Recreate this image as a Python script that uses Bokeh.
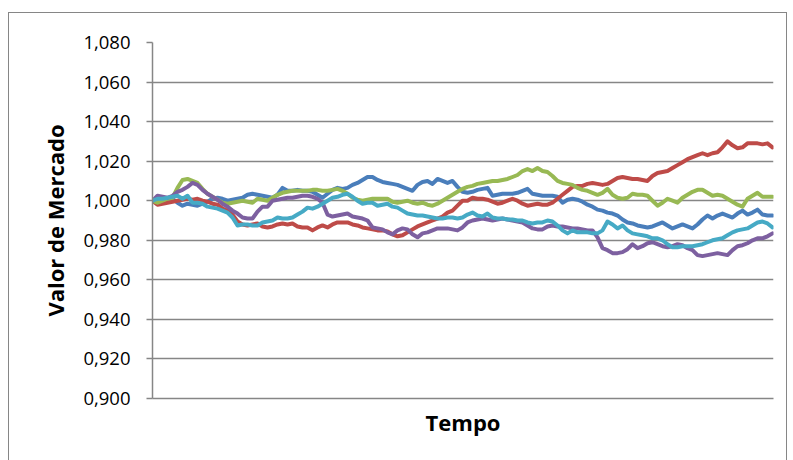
from bokeh.plotting import figure
from bokeh.models import Range1d, FixedTicker, InlineStyleSheet
from bokeh.embed import file_html
from bokeh.resources import INLINE

y_ticks = [0.900, 0.920, 0.940, 0.960, 0.980, 1.000, 1.020, 1.040, 1.060, 1.080]
y_tick_labels = ["0,900", "0,920", "0,940", "0,960", "0,980", "1,000", "1,020", "1,040", "1,060", "1,080"]

serie_azul = [
    1.000, 1.000, 1.001, 1.001, 1.001, 0.999, 0.9975, 0.9985, 0.998, 0.9975,
    0.9985, 0.9995, 1.001, 1.0015, 1.001, 1.000, 1.0005, 1.001, 1.0015, 1.003,
    1.0035, 1.003, 1.0025, 1.002, 1.0015, 1.003, 1.0065, 1.005, 1.005, 1.0055,
    1.005, 1.005, 1.0045, 1.003, 1.0015, 1.0035, 1.0055, 1.0065, 1.006, 1.0065,
    1.008, 1.009, 1.0105, 1.012, 1.012, 1.0105, 1.0095, 1.009, 1.0085, 1.008,
    1.007, 1.006, 1.005, 1.008, 1.0095, 1.010, 1.0085, 1.011, 1.010, 1.009,
    1.010, 1.007, 1.0045, 1.004, 1.0045, 1.0055, 1.006, 1.0065, 1.0025, 1.003,
    1.0035, 1.0035, 1.0035, 1.004, 1.005, 1.006, 1.0035, 1.003, 1.0025, 1.0025,
    1.0025, 1.002, 0.999, 1.0005, 1.001, 1.0005, 0.9995, 0.998, 0.997, 0.9955,
    0.995, 0.994, 0.9935, 0.9925, 0.9905, 0.989, 0.9885, 0.9875, 0.987, 0.9865,
    0.987, 0.988, 0.989, 0.9875, 0.986, 0.987, 0.988, 0.987, 0.986, 0.988,
    0.9905, 0.9925, 0.991, 0.9925, 0.9935, 0.9925, 0.9915, 0.9935, 0.995, 0.993,
    0.994, 0.9955, 0.993, 0.9925, 0.9925,
]

serie_vermelha = [
    1.000, 0.998, 0.9985, 0.999, 0.9995, 1.000, 1.0005, 1.001, 1.0005, 1.001,
    1.000, 0.9995, 0.9985, 0.998, 0.996, 0.995, 0.993, 0.9895, 0.988, 0.9875,
    0.988, 0.9885, 0.987, 0.9865, 0.987, 0.988, 0.9885, 0.988, 0.9885, 0.987,
    0.9865, 0.9865, 0.985, 0.9865, 0.9875, 0.9865, 0.988, 0.989, 0.989, 0.989,
    0.988, 0.9875, 0.9865, 0.986, 0.9855, 0.985, 0.985, 0.9845, 0.983, 0.982,
    0.9825, 0.984, 0.9855, 0.987, 0.988, 0.989, 0.990, 0.991, 0.992, 0.994,
    0.995, 0.9975, 1.000, 1.000, 1.0015, 1.001, 1.001, 1.0005, 0.9995, 0.9985,
    0.999, 1.000, 1.001, 1.000, 0.9985, 0.9975, 0.998, 0.9985, 0.998, 0.998,
    0.999, 1.001, 1.003, 1.005, 1.007, 1.0075, 1.0075, 1.0085, 1.009, 1.0085,
    1.008, 1.0085, 1.010, 1.0115, 1.012, 1.0115, 1.011, 1.011, 1.0105, 1.010,
    1.0125, 1.014, 1.0145, 1.015, 1.0165, 1.018, 1.0195, 1.021, 1.022, 1.023,
    1.024, 1.023, 1.024, 1.0245, 1.027, 1.030, 1.028, 1.0265, 1.027, 1.029,
    1.029, 1.029, 1.0285, 1.029, 1.027,
]

serie_verde = [
    1.000, 0.999, 1.000, 1.001, 1.0015, 1.0065, 1.0105, 1.011, 1.010, 1.009,
    1.006, 1.0035, 1.002, 1.0005, 0.999, 0.9985, 0.999, 0.9995, 1.000, 0.9995,
    0.999, 1.001, 1.0005, 1.000, 1.0015, 1.003, 1.004, 1.0045, 1.005, 1.005,
    1.005, 1.005, 1.0055, 1.0055, 1.005, 1.005, 1.0055, 1.006, 1.005, 1.0035,
    1.0015, 1.0005, 1.000, 1.0005, 1.001, 1.001, 1.001, 1.001, 0.9995, 0.999,
    0.9995, 1.000, 0.999, 0.9985, 0.999, 0.998, 0.9975, 0.9985, 1.000, 1.0015,
    1.003, 1.0045, 1.006, 1.007, 1.0075, 1.0085, 1.009, 1.0095, 1.010, 1.010,
    1.0105, 1.011, 1.012, 1.013, 1.015, 1.016, 1.015, 1.0165, 1.015, 1.0145,
    1.0125, 1.010, 1.009, 1.0085, 1.008, 1.0065, 1.0055, 1.005, 1.004, 1.003,
    1.004, 1.006, 1.003, 1.0015, 1.001, 1.0015, 1.0035, 1.003, 1.003, 1.0025,
    1.000, 0.9975, 0.999, 1.001, 1.000, 0.999, 1.0015, 1.003, 1.0045, 1.0055,
    1.0055, 1.004, 1.0025, 1.003, 1.0025, 1.001, 0.9995, 0.998, 0.997, 1.001,
    1.0025, 1.004, 1.002, 1.002, 1.002,
]

serie_roxa = [
    1.000, 1.0025, 1.002, 1.0015, 1.0025, 1.0045, 1.0055, 1.007, 1.009, 1.008,
    1.0055, 1.0035, 1.002, 1.0005, 0.9985, 0.997, 0.995, 0.9935, 0.9915, 0.991,
    0.991, 0.9945, 0.997, 0.997, 1.000, 1.0005, 1.001, 1.0015, 1.0015, 1.002,
    1.0025, 1.0025, 1.002, 1.001, 0.999, 0.993, 0.992, 0.9925, 0.993, 0.9935,
    0.992, 0.9915, 0.991, 0.990, 0.9865, 0.986, 0.9855, 0.984, 0.983, 0.985,
    0.986, 0.9855, 0.983, 0.9815, 0.9835, 0.984, 0.985, 0.986, 0.986, 0.986,
    0.9855, 0.985, 0.9865, 0.989, 0.990, 0.9905, 0.991, 0.9905, 0.990, 0.9905,
    0.991, 0.9905, 0.990, 0.9895, 0.989, 0.9875, 0.986, 0.9855, 0.9855, 0.987,
    0.9875, 0.987, 0.987, 0.9865, 0.986, 0.986, 0.9855, 0.985, 0.985, 0.9815,
    0.976, 0.975, 0.9735, 0.9735, 0.974, 0.9755, 0.978, 0.976, 0.977, 0.9785,
    0.979, 0.978, 0.977, 0.9765, 0.977, 0.978, 0.9775, 0.976, 0.975, 0.9725,
    0.972, 0.9725, 0.973, 0.9735, 0.973, 0.9725, 0.975, 0.977, 0.9775, 0.9785,
    0.980, 0.981, 0.981, 0.982, 0.9835,
]

serie_ciano = [
    1.000, 1.001, 1.001, 1.0015, 1.002, 1.0025, 1.001, 1.0025, 0.999, 0.999,
    0.9985, 0.997, 0.9965, 0.996, 0.995, 0.994, 0.9915, 0.9875, 0.988, 0.988,
    0.9875, 0.9875, 0.989, 0.9895, 0.990, 0.9915, 0.991, 0.991, 0.9915, 0.993,
    0.9945, 0.9965, 0.996, 0.997, 0.9985, 1.000, 1.0015, 1.002, 1.003, 1.0035,
    1.002, 1.000, 0.9985, 0.999, 0.999, 0.9975, 0.998, 0.9985, 0.997, 0.9965,
    0.995, 0.9935, 0.993, 0.9925, 0.9925, 0.992, 0.9915, 0.991, 0.991, 0.9915,
    0.9915, 0.991, 0.9915, 0.993, 0.994, 0.9925, 0.992, 0.9935, 0.9915, 0.991,
    0.991, 0.9905, 0.9905, 0.990, 0.990, 0.989, 0.9885, 0.989, 0.989, 0.990,
    0.9895, 0.9875, 0.985, 0.9835, 0.985, 0.984, 0.984, 0.984, 0.9835, 0.9835,
    0.985, 0.9895, 0.988, 0.986, 0.9875, 0.985, 0.9835, 0.983, 0.9825, 0.982,
    0.981, 0.981, 0.980, 0.978, 0.9765, 0.9765, 0.977, 0.977, 0.977, 0.9775,
    0.978, 0.979, 0.980, 0.9805, 0.981, 0.9825, 0.984, 0.985, 0.9855, 0.986,
    0.9875, 0.989, 0.9895, 0.9885, 0.9865,
]

tempo = list(range(len(serie_azul)))

series = [
    (serie_azul, "#4A7EBB"),
    (serie_vermelha, "#BE4B48"),
    (serie_verde, "#98B954"),
    (serie_roxa, "#7D60A0"),
    (serie_ciano, "#46AAC5"),
]

p = figure(width=793, height=460, output_backend="svg", toolbar_location=None,
           x_range=Range1d(0, len(tempo) - 1 + 0.2), y_range=Range1d(0.900, 1.080))
p.min_border_left = 152
p.min_border_right = 20
p.min_border_top = 42
p.min_border_bottom = 62
p.outline_line_color = None
p.background_fill_color = "white"
p.border_fill_color = "white"

# chart-area border (like the Excel chart frame); its bottom edge lies below the window
p.stylesheets = [InlineStyleSheet(css="""
:host::after {
  content: "";
  position: absolute;
  left: 8px;
  top: 12px;
  width: 777px;
  height: 470px;
  border: 1px solid #868686;
  pointer-events: none;
}
""")]

grid_color = "#868686"
p.xgrid.visible = False
p.ygrid.ticker = FixedTicker(ticks=y_ticks)
p.ygrid.grid_line_color = grid_color
p.ygrid.grid_line_width = 1.5

p.yaxis.ticker = FixedTicker(ticks=y_ticks)
p.yaxis.major_label_overrides = dict(zip(y_ticks, y_tick_labels))
p.yaxis.axis_line_color = grid_color
p.yaxis.axis_line_width = 1.5
p.yaxis.major_tick_line_color = grid_color
p.yaxis.major_tick_line_width = 1.5
p.yaxis.major_tick_out = 6
p.yaxis.major_tick_in = 0
p.yaxis.minor_tick_line_color = None
p.yaxis.major_label_standoff = 16
p.yaxis.major_label_text_font = "Open Sans"
p.yaxis.major_label_text_font_size = "18.5px"
p.yaxis.major_label_text_color = "#000000"
p.yaxis.axis_label = "Valor de Mercado"
p.yaxis.axis_label_text_font = "Open Sans"
p.yaxis.axis_label_text_font_style = "bold"
p.yaxis.axis_label_text_font_size = "22px"
p.yaxis.axis_label_text_color = "#000000"
p.yaxis.axis_label_standoff = 10

p.xaxis.ticker = FixedTicker(ticks=[])
p.xaxis.axis_line_color = grid_color
p.xaxis.axis_line_width = 1.5
p.xaxis.major_tick_line_color = None
p.xaxis.minor_tick_line_color = None
p.xaxis.major_label_text_font_size = "0px"
p.xaxis.axis_label = "Tempo"
p.xaxis.axis_label_text_font = "Open Sans"
p.xaxis.axis_label_text_font_style = "bold"
p.xaxis.axis_label_text_font_size = "22px"
p.xaxis.axis_label_text_color = "#000000"
p.xaxis.axis_label_standoff = 8

for values, color in series:
    p.line(tempo, values, line_color=color, line_width=4, line_join="round", line_cap="round")

open("out.html", "w").write(file_html(p, INLINE))
